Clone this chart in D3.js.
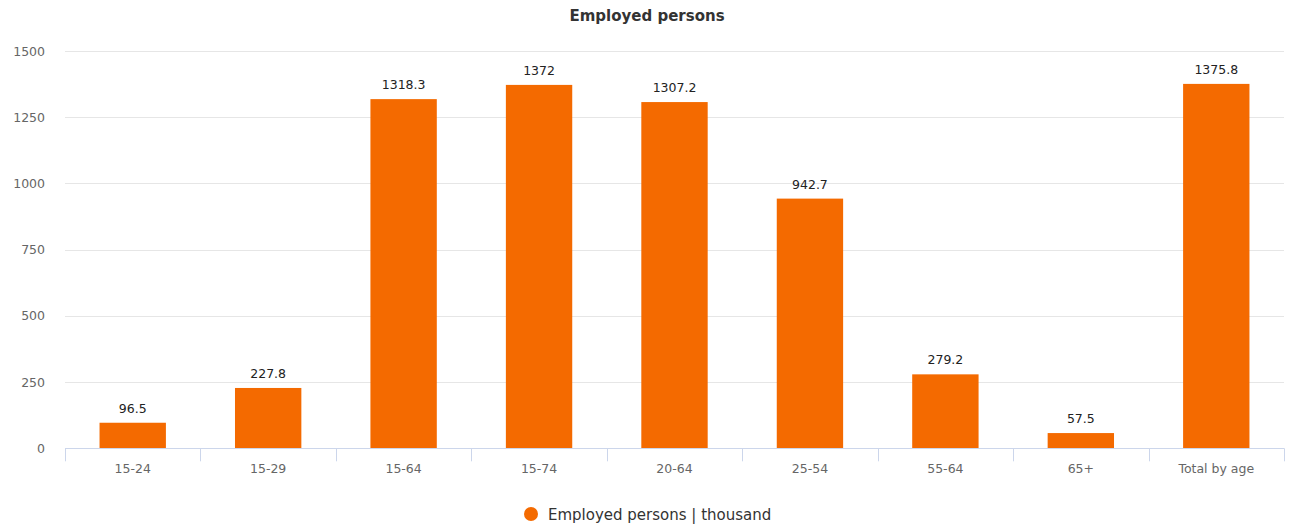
<!DOCTYPE html>
<html><head><meta charset="utf-8">
<script src="https://cdn.jsdelivr.net/npm/d3@7"></script>
<style>body{margin:0;background:#fff;font-family:"Lucida Grande","DejaVu Sans",sans-serif;}</style>
</head><body><svg id="c" width="1294" height="529"></svg>
<script>
const categories = ["15-24","15-29","15-64","15-74","20-64","25-54","55-64","65+","Total by age"];
const values = [96.5,227.8,1318.3,1372,1307.2,942.7,279.2,57.5,1375.8];
const yTicks = [0,250,500,750,1000,1250,1500];
const seriesName = "Employed persons | thousand";
const title = "Employed persons";

const svg = d3.select("#c");
const m = {l:65, r:1284, t:51, b:448.3};
const x = d3.scaleBand().domain(categories).range([m.l, m.r]).paddingInner(0.51).paddingOuter(0.255);
const xb = d3.scaleBand().domain(categories).range([m.l, m.r]);
const y = d3.scaleLinear().domain([0,1500]).range([m.b, m.t]);
const font = "'Lucida Grande','DejaVu Sans',sans-serif";

svg.append("text").attr("x",647).attr("y",21).attr("text-anchor","middle")
  .attr("font-size",15).attr("font-weight","bold").attr("fill","#333").attr("font-family",font).text(title);

const gy = svg.append("g");
gy.selectAll("line").data(yTicks.filter(d=>d>0)).join("line")
  .attr("x1",m.l).attr("x2",m.r).attr("y1",d=>Math.round(y(d))+0.5).attr("y2",d=>Math.round(y(d))+0.5)
  .attr("stroke","#e6e6e6");
gy.selectAll("text").data(yTicks).join("text")
  .attr("x",45).attr("y",d=>y(d)+4.5).attr("text-anchor","end")
  .attr("font-size",12.5).attr("fill","#666").attr("font-family",font).text(d=>d);

svg.selectAll("rect.bar").data(values).join("rect").attr("class","bar")
  .attr("x",(d,i)=>x(categories[i])).attr("width",x.bandwidth())
  .attr("y",d=>y(d)).attr("height",d=>m.b-y(d)).attr("fill","#f46a00");

svg.selectAll("text.val").data(values).join("text").attr("class","val")
  .attr("x",(d,i)=>x(categories[i])+x.bandwidth()/2).attr("y",d=>y(d)-10)
  .attr("text-anchor","middle").attr("font-size",12.5).attr("fill","#222").attr("font-family",font)
  .text(d=>d);

// x axis
const gx = svg.append("g");
gx.append("line").attr("x1",m.l).attr("x2",m.r).attr("y1",Math.round(m.b)+0.5).attr("y2",Math.round(m.b)+0.5).attr("stroke","#ccd6eb");
const tickXs = categories.map(c=>xb(c)).concat([m.r]);
gx.selectAll("line.t").data(tickXs).join("line").attr("class","t")
  .attr("x1",d=>Math.round(d)+0.5).attr("x2",d=>Math.round(d)+0.5)
  .attr("y1",m.b).attr("y2",m.b+13).attr("stroke","#ccd6eb");
gx.selectAll("text").data(categories).join("text")
  .attr("x",d=>xb(d)+xb.bandwidth()/2).attr("y",m.b+25)
  .attr("text-anchor","middle").attr("font-size",12.5).attr("fill","#666").attr("font-family",font).text(d=>d);

// legend
svg.append("circle").attr("cx",531).attr("cy",514).attr("r",7).attr("fill","#f46a00");
svg.append("text").attr("x",548).attr("y",519.5).attr("font-size",15).attr("fill","#333").attr("font-family",font).text(seriesName);
</script></body></html>
